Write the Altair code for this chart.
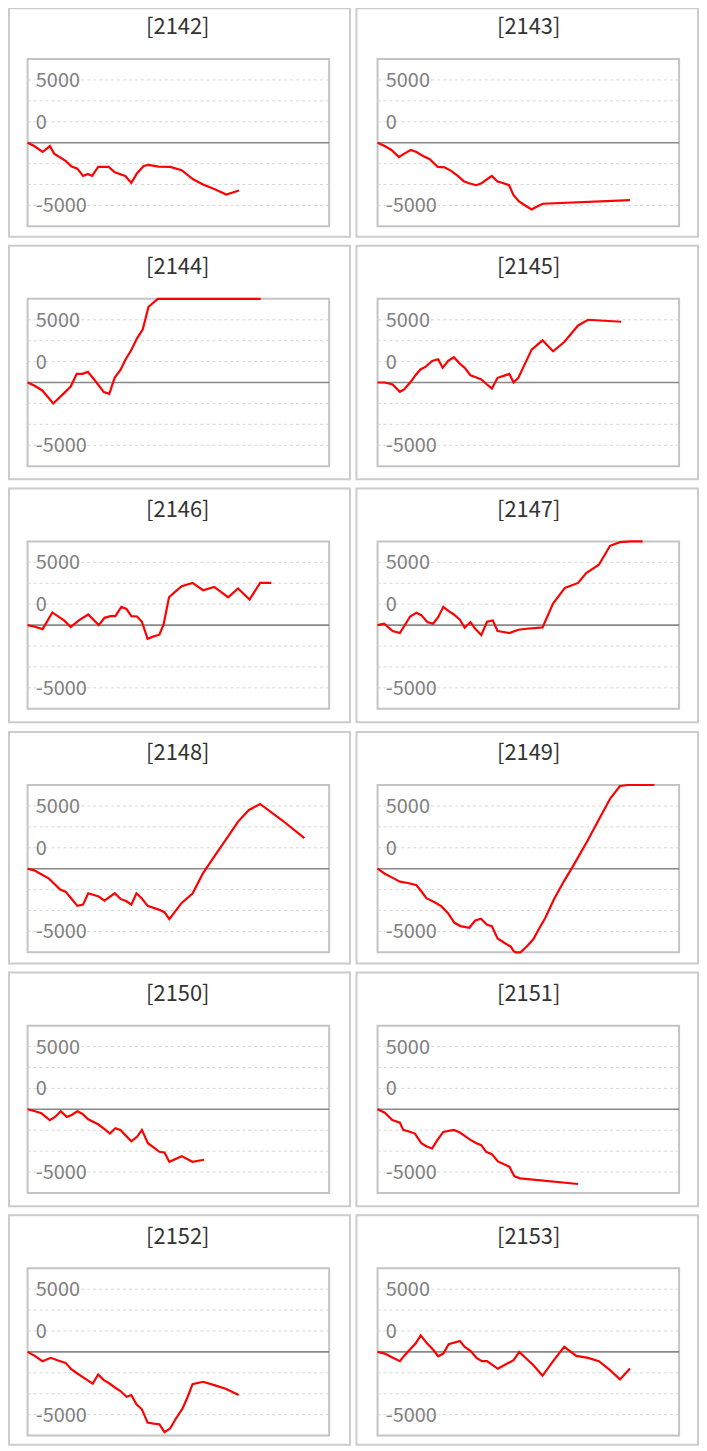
import altair as alt
import pandas as pd

# ---------------- data ----------------
codes = ["2142", "2143", "2144", "2145", "2146", "2147",
         "2148", "2149", "2150", "2151", "2152", "2153"]

x_2142 = [0, 2.2, 5.0, 7.4, 8.8, 12.6, 14.6, 16.5, 18.4, 20.0, 21.4, 23.4, 26.9, 28.9, 32.4, 34.4, 36.3,
          38.5, 40.1, 43.4, 47.3, 51.1, 54.9, 58.2, 62.1, 65.9, 70.1]
y_2142 = [0, -400, -1110, -400, -1310, -2180, -2860, -3100, -3970, -3730, -3970, -2900, -2900, -3530,
          -3970, -4800, -3650, -2780, -2660, -2860, -2900, -3290, -4370, -5000, -5560, -6190, -5710]

x_2143 = [0, 2.4, 4.6, 7.1, 9.0, 11.0, 12.9, 15.1, 17.3, 20.0, 22.2, 24.4, 26.6, 28.6, 30.4, 32.7, 34.3,
          36.3, 37.9, 39.8, 41.8, 43.6, 45.1, 46.9, 49.1, 51.1, 52.9, 54.8, 83.7]
y_2143 = [0, -400, -870, -1710, -1270, -870, -1110, -1590, -1980, -2900, -2940, -3370, -3970, -4600,
          -4840, -5080, -4880, -4370, -3970, -4640, -4840, -5080, -6270, -7020, -7540, -7980, -7620,
          -7300, -6860]

x_2144 = [0, 2.2, 4.9, 8.5, 12.1, 14.3, 16.3, 18.2, 20.0, 22.6, 25.3, 27.1, 28.9, 30.8, 32.4, 34.4, 36.3,
          38.2, 40.1, 43.2, 45.0, 52.0, 60.0, 68.0, 77.3]
y_2144 = [0, -360, -950, -2500, -1270, -480, 1030, 1030, 1270, 120, -1150, -1350, 600, 1510, 2700,
          3890, 5280, 6350, 9050, 10000, 10900, 11800, 12400, 11900, 12600]

x_2145 = [0, 2.4, 5.0, 7.4, 8.8, 11.0, 12.6, 14.3, 15.9, 18.1, 20.1, 21.6, 23.4, 25.3, 27.3, 29.1, 30.8,
          32.4, 34.4, 36.3, 37.9, 39.8, 41.8, 43.7, 45.1, 46.7, 48.9, 51.1, 54.7, 58.2, 61.9, 66.5,
          69.8, 80.8]
y_2145 = [0, 0, -240, -1110, -830, 80, 870, 1590, 1870, 2580, 2780, 1750, 2580, 3020, 2260, 1670, 870,
          670, 360, -240, -710, 560, 790, 1030, 0, 560, 2260, 3930, 5040, 3730, 4840, 6820, 7500, 7260]

x_2146 = [0, 2.4, 5.0, 8.2, 12.1, 14.3, 17.0, 20.1, 23.6, 25.5, 27.5, 29.1, 31.1, 32.8, 34.4, 36.3, 37.9,
          39.8, 41.8, 43.7, 45.1, 46.9, 48.9, 51.1, 54.7, 58.2, 61.9, 66.5, 69.8, 73.6, 77.1, 80.8]
y_2146 = [0, -200, -480, 1510, 560, -240, 560, 1270, 0, 870, 1070, 1070, 2180, 1940, 1070, 1030, 400,
          -1630, -1350, -1150, 80, 3330, 3970, 4640, 5040, 4170, 4560, 3330, 4370, 3060, 5040, 5040]

x_2147 = [0, 2.2, 5.0, 7.4, 10.8, 12.9, 14.5, 16.5, 18.4, 20.1, 21.8, 23.6, 25.3, 27.3, 28.9, 30.8, 32.4,
          34.4, 36.3, 38.2, 39.8, 41.8, 43.7, 46.7, 49.5, 54.7, 58.2, 62.1, 66.5, 69.2, 73.4, 77.1, 80.4,
          84.0, 87.9]
y_2147 = [0, 160, -710, -950, 1030, 1470, 1190, 360, 160, 950, 2180, 1670, 1270, 640, -320, 360, -440,
          -1190, 400, 560, -710, -830, -950, -560, -440, -280, 2580, 4440, 5040, 6230, 7220, 9480, 9920,
          10500, 10800]

x_2148 = [0, 2.2, 4.4, 7.1, 10.8, 12.6, 14.5, 16.5, 18.4, 20.1, 23.6, 25.5, 28.9, 30.8, 32.8, 34.4, 36.1,
          37.9, 39.8, 41.8, 43.7, 45.4, 47.0, 51.1, 54.7, 58.2, 62.1, 66.5, 69.8, 73.4, 77.1, 84.4, 91.8]
y_2148 = [0, -200, -640, -1190, -2500, -2740, -3570, -4440, -4290, -2940, -3330, -3810, -2940, -3610,
          -3890, -4290, -2940, -3570, -4440, -4680, -4920, -5200, -6030, -4090, -2980, -520, 1550, 3850,
          5630, 7020, 7740, 5790, 3650]

x_2149 = [0, 2.4, 4.9, 7.4, 10.1, 12.9, 14.5, 16.2, 18.9, 21.1, 23.3, 25.5, 27.5, 30.4, 32.4, 34.3, 36.3,
          37.9, 39.8, 42.0, 44.2, 45.1, 45.8, 47.4, 49.7, 51.7, 53.5, 55.7, 58.5, 61.8, 65.1, 69.5, 73.3,
          77.2, 80.4, 83.0, 91.8]
y_2149 = [0, -600, -1070, -1550, -1710, -1980, -2700, -3530, -4010, -4480, -5280, -6470, -6860, -7060,
          -6190, -5990, -6710, -6860, -8330, -8850, -9320, -9840, -10400, -10000, -9210, -8410, -7220,
          -5830, -3650, -1510, 480, 3250, 5830, 8410, 9880, 10600, 11000]

x_2150 = [0, 2.2, 4.6, 7.4, 9.1, 11.0, 13.0, 14.6, 16.5, 18.1, 20.1, 23.4, 25.3, 27.3, 29.1, 30.8, 34.4,
          36.3, 37.9, 39.9, 41.8, 43.7, 45.4, 47.0, 51.1, 54.7, 58.5]
y_2150 = [0, -200, -480, -1310, -910, -240, -910, -670, -240, -520, -1190, -1790, -2300, -2900, -2260,
          -2460, -3810, -3290, -2460, -4050, -4560, -5080, -5160, -6270, -5600, -6270, -6030]

x_2151 = [0, 2.4, 4.9, 7.4, 8.5, 10.4, 12.4, 14.5, 16.3, 18.1, 19.8, 21.8, 25.3, 27.3, 28.9, 30.8, 32.8,
          34.4, 36.0, 37.9, 39.9, 43.7, 45.4, 47.3, 66.5]
y_2151 = [0, -400, -1270, -1590, -2460, -2660, -2900, -4050, -4440, -4680, -3690, -2700, -2460, -2780,
          -3170, -3650, -4050, -4290, -5080, -5360, -6230, -6860, -8020, -8250, -8930]

x_2152 = [0, 2.4, 4.9, 7.7, 9.9, 12.6, 14.5, 16.5, 18.7, 21.6, 23.4, 25.3, 27.3, 29.1, 30.8, 32.8, 34.4,
          36.1, 37.9, 39.8, 41.8, 43.7, 45.4, 47.3, 49.1, 51.4, 53.1, 54.7, 58.2, 61.9, 65.9, 70.0]
y_2152 = [0, -480, -1110, -710, -990, -1310, -2060, -2580, -3100, -3810, -2700, -3370, -3810, -4290,
          -4680, -5360, -5160, -6270, -6860, -8450, -8570, -8650, -9600, -9130, -8020, -6750, -5360,
          -3850, -3570, -3970, -4440, -5160]

x_2153 = [0, 2.4, 4.6, 7.4, 8.8, 10.8, 12.6, 14.3, 16.3, 18.4, 20.1, 21.8, 23.6, 27.3, 28.9, 30.8, 32.8,
          34.6, 36.3, 39.9, 41.8, 45.1, 47.0, 49.3, 51.7, 54.7, 58.2, 61.9, 65.9, 69.8, 73.4, 77.1, 80.4,
          83.7]
y_2153 = [0, -200, -600, -1110, -480, 320, 990, 1980, 1070, 280, -520, -200, 910, 1310, 600, 120, -710,
          -1110, -1110, -2020, -1630, -990, 0, -790, -1590, -2860, -1110, 600, -480, -710, -1110, -2180,
          -3290, -1980]

series = {
    "2142": (x_2142, y_2142), "2143": (x_2143, y_2143), "2144": (x_2144, y_2144),
    "2145": (x_2145, y_2145), "2146": (x_2146, y_2146), "2147": (x_2147, y_2147),
    "2148": (x_2148, y_2148), "2149": (x_2149, y_2149), "2150": (x_2150, y_2150),
    "2151": (x_2151, y_2151), "2152": (x_2152, y_2152), "2153": (x_2153, y_2153),
}

grid_values = [7500, 5000, 2500, -2500, -5000, -7500]
tick_labels = ["5000", "0", "-5000"]
tick_values = [7500, 2500, -7500]

# ---------------- layout / style ----------------
FONT = "Noto Sans CJK JP"
CELL_W = [343, 343.5]
ROW_H = [230.0, 234.9, 235.2, 232.9, 234.9, 231]
ZERO_REL = [135.3, 137.5, 137.5, 137.5, 137.5, 137.5]
HALF = 84.15
PLOT_X = [(18.7, 322.0), (21.2, 324.5)]
TITLE_X = [169.75, 173.25]


def make_cell(code, col, row):
    xs, ys = series[code]
    df = pd.DataFrame({"x": xs, "y": ys})
    w, h = CELL_W[col], ROW_H[row]
    px0, px1 = PLOT_X[col]
    z = ZERO_REL[row]
    py0, py1 = z - HALF, z + HALF
    yscale = alt.Scale(domain=[-10000, 10000], range=[py1, py0], clamp=True, nice=False, zero=False)
    xscale = alt.Scale(domain=[0, 100], range=[px0, px1], nice=False, zero=False)
    one = pd.DataFrame({"t": [f"[{code}]"]})

    border = alt.Chart(one).mark_rect(fill="white", stroke="#c4c4c4", strokeWidth=2).encode(
        x=alt.value(px0), x2=alt.value(px1), y=alt.value(py0), y2=alt.value(py1))
    grid = alt.Chart(pd.DataFrame({"v": grid_values})).mark_rule(
        color="#d6d6d6", strokeDash=[3, 3], strokeWidth=1).encode(
        x=alt.value(px0), x2=alt.value(px1), y=alt.Y("v:Q", scale=yscale, axis=None))
    zero = alt.Chart(pd.DataFrame({"v": [0]})).mark_rule(color="#888888", strokeWidth=1.6).encode(
        x=alt.value(px0), x2=alt.value(px1), y=alt.Y("v:Q", scale=yscale, axis=None))
    labels = alt.Chart(pd.DataFrame({"v": tick_values, "label": tick_labels})).mark_text(
        align="left", baseline="middle", dy=1, fontSize=20, color="#808080", font=FONT).encode(
        x=alt.value(px0 + 8.3), y=alt.Y("v:Q", scale=yscale, axis=None), text="label:N")
    line = alt.Chart(df).mark_line(color="#ff0000", strokeWidth=2.2).encode(
        x=alt.X("x:Q", scale=xscale, axis=None), y=alt.Y("y:Q", scale=yscale, axis=None))
    title = alt.Chart(one).mark_text(fontSize=22, color="#333333", font=FONT, align="center",
                                     baseline="middle").encode(
        x=alt.value(TITLE_X[col]), y=alt.value(z - 116), text="t:N")
    return alt.layer(border, grid, zero, labels, line, title).properties(width=w, height=h)


rows = []
for r in range(6):
    left = make_cell(codes[2 * r], 0, r)
    right = make_cell(codes[2 * r + 1], 1, r)
    rows.append(alt.hconcat(left, right, spacing=4.5))


def build(pad):
    return alt.vconcat(*rows, spacing=7, padding=pad, background="white").configure_view(
        stroke="#cccccc", strokeWidth=2)


try:
    chart = build({"top": -5, "left": 0, "right": 0, "bottom": 0})
    chart.to_dict()
except Exception:
    chart = build(0)

chart.save("out.html", embed_options={"renderer": "svg", "actions": False})
